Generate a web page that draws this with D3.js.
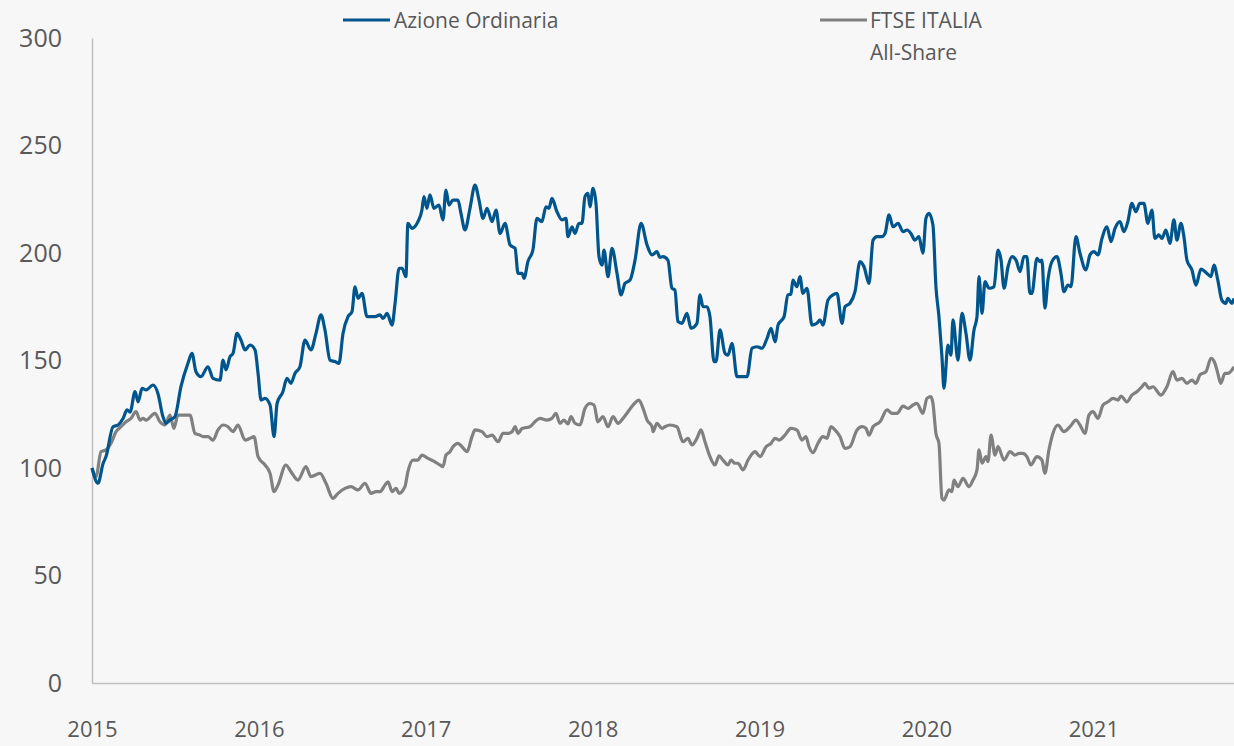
<!DOCTYPE html>
<html>
<head>
<meta charset="utf-8">
<script src="https://cdn.jsdelivr.net/npm/d3@7"></script>
<style>
  html, body { margin: 0; padding: 0; background: #f7f7f7; }
  svg { display: block; }
  text { font-family: "Open Sans", "Noto Sans", sans-serif; fill: #595959; }
</style>
</head>
<body>
<svg id="chart" width="1234" height="746"></svg>
<script>
// ---- data (time in decimal years, value indexed to 100) ----
const seriesNames = ["Azione Ordinaria", "FTSE ITALIA All-Share"];
const yearTicks = [2015, 2016, 2017, 2018, 2019, 2020, 2021];
const valueTicks = [0, 50, 100, 150, 200, 250, 300];

const azioneOrdinaria = [
[2015.000,100],[2015.036,92.9],[2015.066,102],[2015.084,105.3],[2015.126,119.2],[2015.156,120],[2015.186,123],[2015.210,127],[2015.228,126],[2015.258,135.5],[2015.276,130.8],[2015.300,137],[2015.324,136.3],[2015.366,138.6],[2015.395,134.7],[2015.425,123.9],[2015.443,120.8],[2015.467,122.3],[2015.497,123.9],[2015.533,137.8],[2015.575,148.7],[2015.599,153.3],[2015.623,144.8],[2015.653,142.5],[2015.695,147.1],[2015.725,141.7],[2015.767,140.9],[2015.785,150.2],[2015.803,145.6],[2015.827,151.8],[2015.845,153.3],[2015.869,162.6],[2015.893,159.5],[2015.917,154.9],[2015.947,157.2],[2015.977,154.9],[2015.995,144],
[2016.013,131.6],[2016.037,132.4],[2016.067,129.3],[2016.091,114.6],[2016.109,130],[2016.144,135.5],[2016.168,141.7],[2016.192,139.4],[2016.216,144],[2016.246,147.1],[2016.276,159.5],[2016.312,154.9],[2016.342,162.6],[2016.372,171.2],[2016.396,164.2],[2016.426,150.2],[2016.456,149.5],[2016.480,148.7],[2016.504,162.6],[2016.534,170.4],[2016.558,172.7],[2016.576,184.3],[2016.594,178.9],[2016.618,181.2],[2016.648,170.4],[2016.696,170.4],[2016.726,171.2],[2016.744,169.6],[2016.768,171.9],[2016.798,166.5],[2016.816,176.6],[2016.840,192.9],[2016.858,192.9],[2016.881,189],[2016.893,213.8],[2016.917,211.5],[2016.953,214.6],[2016.977,220],[2016.989,226.2],
[2017.007,220.8],[2017.025,227],[2017.049,220.8],[2017.079,222.3],[2017.103,215.4],[2017.121,229.3],[2017.139,222.3],[2017.163,224.6],[2017.193,224.6],[2017.211,218.4],[2017.235,210.7],[2017.265,220.8],[2017.295,231.6],[2017.319,224.6],[2017.343,216.1],[2017.367,220.8],[2017.397,214.6],[2017.421,220],[2017.445,209.1],[2017.475,213.8],[2017.505,203.7],[2017.535,202.2],[2017.553,190.5],[2017.577,190.5],[2017.589,188.2],[2017.612,196],[2017.642,201.4],[2017.666,216.1],[2017.696,214.6],[2017.720,221.5],[2017.738,220.8],[2017.756,225.4],[2017.786,219.2],[2017.816,215.4],[2017.840,216.1],[2017.852,207.6],[2017.876,212.2],[2017.894,209.1],[2017.918,213.8],[2017.936,213.8],[2017.954,226.2],[2017.972,227.7],[2017.984,221.5],
[2018.002,230.1],[2018.020,223.1],[2018.038,198.3],[2018.056,194.4],[2018.068,201.4],[2018.092,189],[2018.116,202.2],[2018.146,190.5],[2018.170,180.5],[2018.194,185.9],[2018.224,187.4],[2018.254,196.7],[2018.290,213.8],[2018.326,203.7],[2018.356,199.1],[2018.385,200.6],[2018.403,198],[2018.421,198.3],[2018.451,196.7],[2018.475,183.6],[2018.493,182.8],[2018.511,168.1],[2018.535,167.3],[2018.565,171.9],[2018.589,165],[2018.625,167.3],[2018.643,180.5],[2018.661,175],[2018.685,175],[2018.703,170.4],[2018.727,149.5],[2018.739,149.5],[2018.763,164.2],[2018.793,153.3],[2018.811,152.5],[2018.835,158],[2018.865,142.5],[2018.925,142.5],[2018.955,155.7],[2018.985,156.4],
[2019.015,155.7],[2019.045,160.3],[2019.069,165],[2019.093,158.7],[2019.111,166.5],[2019.147,170.4],[2019.170,180.5],[2019.188,180.9],[2019.200,187.4],[2019.224,184.3],[2019.242,189],[2019.260,181.2],[2019.284,183.6],[2019.314,166.5],[2019.344,167.3],[2019.362,168.9],[2019.380,166.5],[2019.410,178.1],[2019.440,180.5],[2019.464,181.2],[2019.494,167.3],[2019.512,175],[2019.542,176.6],[2019.572,182],[2019.602,196],[2019.626,193.6],[2019.656,185.9],[2019.680,206],[2019.704,207.6],[2019.734,207.6],[2019.752,209.1],[2019.776,217.7],[2019.800,212.2],[2019.830,213.8],[2019.860,209.9],[2019.884,210.7],[2019.907,209.1],[2019.931,206],[2019.955,207.6],[2019.979,199.9],[2019.997,216.1],
[2020.015,218.4],[2020.039,213],[2020.057,184.3],[2020.075,170.4],[2020.093,151.8],[2020.105,137.1],[2020.129,157.2],[2020.147,152.5],[2020.159,168.9],[2020.189,150.2],[2020.213,171.9],[2020.237,162.6],[2020.261,150.2],[2020.285,164.2],[2020.303,170.4],[2020.315,189],[2020.333,171.9],[2020.351,186.7],[2020.375,183.6],[2020.405,184.3],[2020.429,201.4],[2020.447,196.7],[2020.465,183.6],[2020.489,193.6],[2020.513,198.3],[2020.537,196.7],[2020.561,191.3],[2020.584,198.3],[2020.602,198.3],[2020.620,181.2],[2020.632,181.2],[2020.662,197.5],[2020.680,196],[2020.692,196.7],[2020.710,174.3],[2020.728,187.4],[2020.752,196],[2020.782,198.3],[2020.806,190.5],[2020.824,182],[2020.848,185.1],[2020.866,184.3],[2020.896,207.6],[2020.920,199.9],[2020.956,192.1],[2020.980,199.1],
[2021.004,200.6],[2021.028,199.1],[2021.052,206.8],[2021.082,212.2],[2021.106,205.3],[2021.130,211.5],[2021.160,214.6],[2021.183,209.9],[2021.207,214.6],[2021.231,223.1],[2021.255,219.2],[2021.279,223.1],[2021.303,223.1],[2021.327,213.8],[2021.351,220],[2021.369,206.8],[2021.393,208.4],[2021.411,206.8],[2021.435,210.7],[2021.459,204.5],[2021.483,215.4],[2021.501,206],[2021.525,213.8],[2021.543,207.6],[2021.561,196.7],[2021.591,192.1],[2021.615,185.1],[2021.645,192.5],[2021.681,190.5],[2021.705,189],[2021.723,194.4],[2021.746,187.4],[2021.770,178.1],[2021.794,176.6],[2021.806,178.9],[2021.830,176.6],[2021.843,178.9]
];

const ftseItaliaAllShare = [
[2015.000,100],[2015.024,96],[2015.054,107.6],[2015.084,108.4],[2015.114,111.5],[2015.144,116.9],[2015.174,119.2],[2015.204,121.5],[2015.234,123.1],[2015.264,126.2],[2015.288,122.3],[2015.306,123.1],[2015.324,122.3],[2015.377,125.4],[2015.407,121.5],[2015.437,120],[2015.467,124.6],[2015.491,118.4],[2015.515,124.6],[2015.557,124.6],[2015.587,124.6],[2015.617,116.1],[2015.647,115.3],[2015.665,114.6],[2015.695,114.6],[2015.725,113],[2015.755,117.7],[2015.785,120],[2015.815,119.2],[2015.845,116.9],[2015.875,120],[2015.917,113],[2015.947,113.8],[2015.971,114.6],[2015.995,105.3],
[2016.037,101.4],[2016.067,97.5],[2016.091,89],[2016.114,92],[2016.162,101.4],[2016.192,98.3],[2016.234,94.4],[2016.282,100.6],[2016.312,96],[2016.366,97.5],[2016.402,92.9],[2016.444,85.9],[2016.474,88.2],[2016.516,90.5],[2016.552,91.3],[2016.594,89.8],[2016.636,92.9],[2016.672,88.2],[2016.702,89],[2016.726,89],[2016.756,92.1],[2016.774,93.6],[2016.798,89],[2016.822,90.5],[2016.840,88.2],[2016.875,91.3],[2016.893,98.3],[2016.923,103.7],[2016.953,103.7],[2016.977,106],
[2017.013,104.5],[2017.055,102.9],[2017.085,101.4],[2017.103,100.6],[2017.121,106],[2017.145,107.6],[2017.163,109.9],[2017.193,111.5],[2017.217,109.9],[2017.247,107.6],[2017.277,114.6],[2017.295,117.7],[2017.337,116.9],[2017.367,114.6],[2017.397,115.3],[2017.433,112.2],[2017.463,116.1],[2017.493,116.1],[2017.517,116.9],[2017.535,119.2],[2017.553,116.1],[2017.577,118.4],[2017.624,119.2],[2017.654,121.5],[2017.684,123.1],[2017.726,122.3],[2017.756,123.1],[2017.780,125.4],[2017.804,120.8],[2017.828,122.3],[2017.852,120.5],[2017.870,123.9],[2017.894,120.8],[2017.924,120],[2017.954,127.7],[2017.984,130],
[2018.008,129.3],[2018.032,121.5],[2018.062,123.9],[2018.092,119.2],[2018.122,123.9],[2018.152,120.8],[2018.182,123.1],[2018.212,126.2],[2018.242,129.3],[2018.278,131.6],[2018.302,127.7],[2018.326,122.3],[2018.356,119.2],[2018.362,116.9],[2018.385,120.8],[2018.415,118.4],[2018.433,119.2],[2018.463,120],[2018.505,119.2],[2018.541,112.2],[2018.571,113.8],[2018.595,110.7],[2018.625,113.8],[2018.649,117.7],[2018.673,112.2],[2018.703,105.3],[2018.733,101.4],[2018.757,105.6],[2018.781,103.7],[2018.811,101.4],[2018.829,103.7],[2018.853,102.2],[2018.871,102.2],[2018.901,99.1],[2018.931,103.7],[2018.973,107.6],
[2019.003,105.3],[2019.039,109.9],[2019.069,111.5],[2019.093,113.8],[2019.117,113],[2019.152,115.3],[2019.188,118.4],[2019.224,117.7],[2019.254,113],[2019.278,114.6],[2019.296,110],[2019.320,107.1],[2019.350,111.5],[2019.380,114.6],[2019.404,113.8],[2019.428,119.2],[2019.452,117.7],[2019.482,114.6],[2019.512,109.1],[2019.542,109.9],[2019.584,117.7],[2019.614,119.2],[2019.638,118.4],[2019.656,115.3],[2019.680,119.2],[2019.722,121.5],[2019.764,127],[2019.794,125.4],[2019.824,125.4],[2019.860,128.8],[2019.890,127.7],[2019.919,129.3],[2019.943,130.1],[2019.979,125.4],
[2020.003,132.4],[2020.027,133.2],[2020.039,130.1],[2020.057,116.1],[2020.075,111.5],[2020.093,85.9],[2020.105,85.1],[2020.135,89.8],[2020.153,89],[2020.165,94.4],[2020.189,91.3],[2020.219,95.2],[2020.255,91.3],[2020.279,94.4],[2020.303,99.1],[2020.315,108.4],[2020.333,102.2],[2020.357,105.3],[2020.369,103],[2020.387,115.3],[2020.411,106],[2020.429,109.9],[2020.465,103.7],[2020.501,107.6],[2020.531,106],[2020.555,106.8],[2020.578,106.8],[2020.602,105.3],[2020.626,101.4],[2020.662,105.3],[2020.692,103.7],[2020.710,97.5],[2020.734,108.4],[2020.758,116.1],[2020.788,120],[2020.824,116.9],[2020.860,119.2],[2020.896,122.3],[2020.920,120],[2020.950,116.1],[2020.974,124.6],[2020.998,126.2],
[2021.028,123.1],[2021.058,129.3],[2021.088,130.8],[2021.118,132.4],[2021.148,131.6],[2021.166,133.5],[2021.201,130.8],[2021.231,133.9],[2021.261,135.5],[2021.291,137.8],[2021.309,139.4],[2021.333,137.1],[2021.357,137.8],[2021.405,133.9],[2021.441,137.8],[2021.477,144.8],[2021.501,140.9],[2021.531,141.7],[2021.561,139.4],[2021.591,140.9],[2021.615,139.4],[2021.639,143.3],[2021.675,144.8],[2021.705,151],[2021.729,148.7],[2021.746,144],[2021.764,139.4],[2021.788,144],[2021.806,144],[2021.843,147.1]
];

// ---- chart ----
const svg = d3.select("#chart");
const W = 1234, H = 746;
const plot = { left: 92, right: 1234, top: 38, bottom: 683 };

svg.append("rect").attr("width", W).attr("height", H).attr("fill", "#f7f7f7");

const x = d3.scaleLinear()
  .domain([2015, d3.max(azioneOrdinaria, d => d[0])])
  .range([plot.left, plot.right]);
const y = d3.scaleLinear().domain([0, 300]).range([plot.bottom, plot.top]);

// y axis
const yAxis = svg.append("g")
  .attr("transform", `translate(${plot.left},0)`)
  .call(d3.axisLeft(y).tickValues(valueTicks).tickSize(0).tickPadding(30));
yAxis.select(".domain").attr("stroke", "#bfbfbf").attr("stroke-width", 1.5);
yAxis.selectAll("text").attr("font-size", 25).attr("fill", "#595959")
  .style("font-family", '"Open Sans", sans-serif');

// x axis
const xAxis = svg.append("g")
  .attr("transform", `translate(0,${plot.bottom})`)
  .call(d3.axisBottom(x).tickValues(yearTicks).tickFormat(d3.format("d")).tickSize(0).tickPadding(38));
xAxis.select(".domain").attr("stroke", "#bfbfbf").attr("stroke-width", 1.5);
xAxis.selectAll("text").attr("font-size", 22).attr("fill", "#595959")
  .style("font-family", '"Open Sans", sans-serif');

const line = d3.line()
  .x(d => x(d[0]))
  .y(d => y(d[1]))
  .curve(d3.curveMonotoneX);

svg.append("path").datum(ftseItaliaAllShare)
  .attr("fill", "none").attr("stroke", "#808080").attr("stroke-width", 3.2)
  .attr("stroke-linejoin", "round").attr("d", line);

svg.append("path").datum(azioneOrdinaria)
  .attr("fill", "none").attr("stroke", "#00558c").attr("stroke-width", 3.2)
  .attr("stroke-linejoin", "round").attr("d", line);

// legend
const legend = svg.append("g");
const leg1 = legend.append("g").attr("transform", "translate(343,20)");
leg1.append("line").attr("x1", 0).attr("x2", 47).attr("stroke", "#00558c").attr("stroke-width", 3);
leg1.append("text").attr("x", 51).attr("y", 8).attr("font-size", 21).text(seriesNames[0]);

const leg2 = legend.append("g").attr("transform", "translate(820,20)");
leg2.append("line").attr("x1", 0).attr("x2", 47).attr("stroke", "#808080").attr("stroke-width", 3);
const t2 = leg2.append("text").attr("x", 50).attr("y", 8).attr("font-size", 21);
t2.append("tspan").attr("x", 50).text("FTSE ITALIA");
t2.append("tspan").attr("x", 50).attr("dy", 32).text("All-Share");
</script>
</body>
</html>
